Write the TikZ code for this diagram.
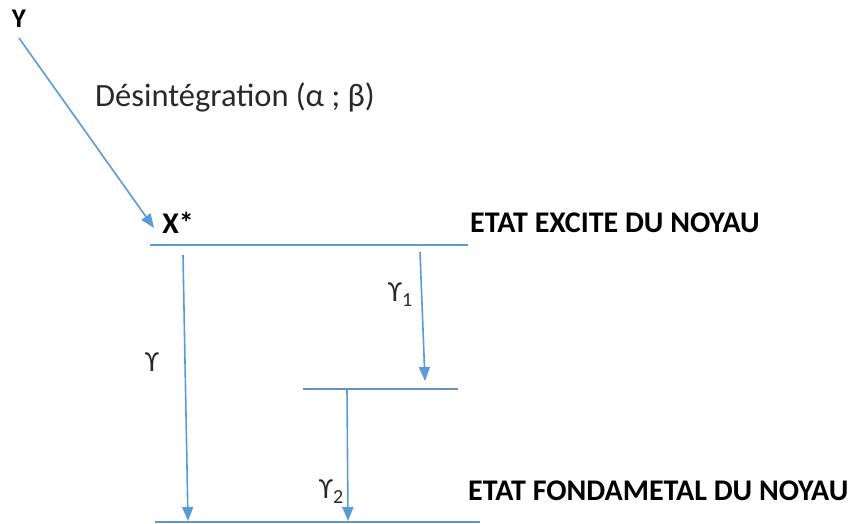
\documentclass[tikz,border=0pt]{standalone}
\usepackage{fontspec}
\setmainfont{Carlito}
\usetikzlibrary{arrows.meta}
\definecolor{lvlblue}{RGB}{91,155,213}
\definecolor{txtgray}{RGB}{40,40,40}
\tikzset{
  level/.style={draw=lvlblue, line width=1.6pt},
  trans/.style={draw=lvlblue, line width=1.6pt, -{Triangle[length=14pt,width=11pt]}},
  lbl/.style={inner sep=0pt, text=txtgray, font=\fontsize{32.5}{34}\selectfont},
  glbl/.style={inner sep=0pt, text=txtgray, font=\fontsize{29}{31}\selectfont},
  blbl/.style={inner sep=0pt, text=black, font=\fontsize{30}{32}\selectfont\bfseries},
}
\newcommand{\gsub}[1]{\raisebox{-0.35ex}{\fontsize{20}{22}\selectfont #1}}
\begin{document}
\begin{tikzpicture}[x=1pt,y=-1pt]
\useasboundingbox (0,0) rectangle (851,524);
% parent nucleus and decay
\node[blbl, font=\fontsize{27}{29}\selectfont\bfseries] (Y) at (19,19) {Y};
\node[lbl, anchor=west] (des) at (95,97) {Désintégration (α ; β)};
\node[blbl] (X) at (178,223) {X*};
\coordinate (ys) at (19,38);
\coordinate (xe) at (154,228);
\draw[trans] (ys) -- (xe);
% energy levels
\coordinate (e1) at (150,245);
\coordinate (e1r) at (468,245);
\coordinate (m1) at (303,389);
\coordinate (m1r) at (458,389);
\coordinate (g1) at (155,522);
\coordinate (g1r) at (480,522);
\draw[level] (e1) -- (e1r);
\draw[level, draw=lvlblue!70!gray] (m1) -- (m1r);
\draw[level, line width=2.4pt, draw=lvlblue!80!gray] (g1) -- (g1r);
\node[blbl, anchor=west] (exc) at (470,223) {ETAT EXCITE DU NOYAU};
\node[blbl, anchor=west] (fond) at (468,491) {ETAT FONDAMETAL DU NOYAU};
% gamma transitions
\coordinate (ga) at (183,255);
\coordinate (gb) at (188,521);
\coordinate (g1a) at (420,252);
\coordinate (g1b) at (425,381);
\coordinate (g2a) at (347,389);
\coordinate (g2b) at (348,521);
\draw[trans] (ga) -- (gb);
\draw[trans] (g1a) -- (g1b);
\draw[trans] (g2a) -- (g2b);
\node[glbl] (lg) at (152,362) {ϒ};
\node[glbl] (lg1) at (400,295) {ϒ\gsub{1}};
\node[glbl] (lg2) at (331,492) {ϒ\gsub{2}};
\end{tikzpicture}
\end{document}
